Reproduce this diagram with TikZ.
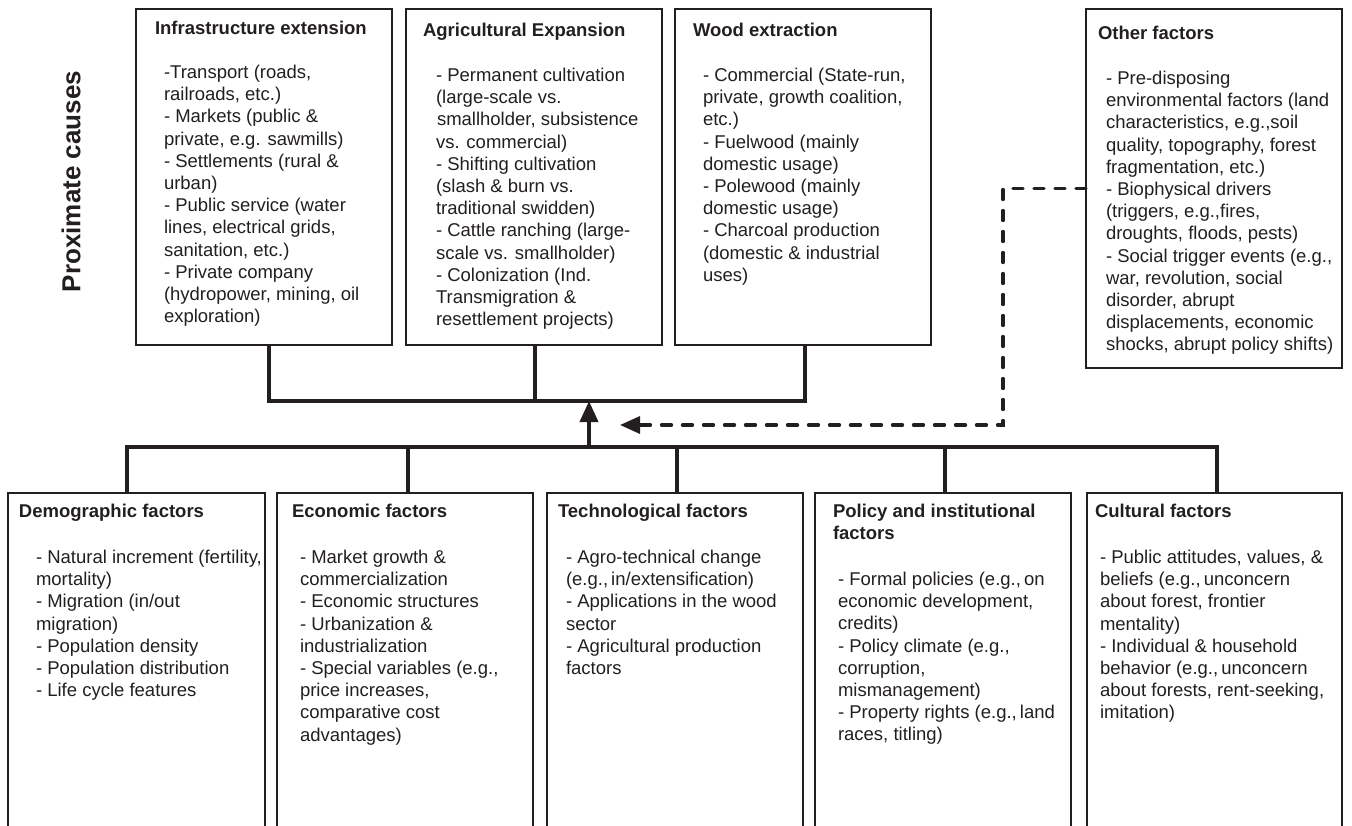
\documentclass[tikz,border=0pt]{standalone}
\usepackage{fontspec}
\setmainfont{Liberation Sans}
\usetikzlibrary{arrows.meta}
\definecolor{ink}{HTML}{231F20}
\begin{document}
\begin{tikzpicture}[x=1pt,y=-1pt,
  frame/.style={draw=ink, line width=1.3pt, rectangle, inner sep=0pt, outer sep=0pt, anchor=north west, minimum width=256pt},
  txt/.style={anchor=north west, yshift=15.54pt, inner sep=0pt, outer sep=0pt, align=left, text=ink, font=\fontsize{18.5}{22.2}\selectfont},
  ttl/.style={txt, font=\fontsize{18.5}{22.2}\selectfont\bfseries},
  conn/.style={draw=ink, line width=3.8pt},
  dashconn/.style={draw=ink, line width=3.3pt, line cap=round, dash pattern=on 10pt off 11pt},
]
\fill[white] (0,0) rectangle (1352,826);
\useasboundingbox (0,0) rectangle (1352,826);
\clip (0,0) rectangle (1352,826);

% side label
\node[rotate=90, inner sep=0pt, text=ink, font=\fontsize{26}{30}\selectfont\bfseries] (prox) at (71,181.5) {Proximate causes};

% top frames
\node[frame, minimum height=336pt] (infra) at (136,9) {};
\node[frame, minimum height=336pt] (agri) at (406,9) {};
\node[frame, minimum height=336pt] (wood) at (675,9) {};
\node[frame, minimum height=359pt] (other) at (1086,9) {};

% bottom frames (open at the bottom edge)
\node[frame, minimum height=345pt, minimum width=257pt] (demo) at (8,493) {};
\node[frame, minimum height=345pt] (econ) at (277,493) {};
\node[frame, minimum height=345pt] (tech) at (547,493) {};
\node[frame, minimum height=345pt] (policy) at (815,493) {};
\node[frame, minimum height=345pt, minimum width=255pt] (cult) at (1087,493) {};

% top texts
\node[ttl] (infraT) at (155,34.5) {\strut Infrastructure extension};
\node[txt] (infraB) at (164,78.5) {\strut -Transport (roads,\\
railroads, etc.)\\
- Markets (public \&\\
private, e.g. sawmills)\\
- Settlements (rural \&\\
urban)\\
- Public service (water\\
lines, electrical grids,\\
sanitation, etc.)\\
- Private company\\
(hydropower, mining, oil\\
exploration)};

\node[ttl] (agriT) at (423,36.5) {\strut Agricultural Expansion};
\node[txt] (agriB) at (436,81.5) {\strut - Permanent cultivation\\
(large-scale vs.\\
\hspace{1pt}smallholder, subsistence\\
vs. commercial)\\
- Shifting cultivation\\
(slash \& burn vs.\\
traditional swidden)\\
- Cattle ranching (large-\\
scale vs. smallholder)\\
- Colonization (Ind.\\
Transmigration \&\\
resettlement projects)};

\node[ttl] (woodT) at (693,36.5) {\strut Wood extraction};
\node[txt] (woodB) at (703,81.5) {\strut - Commercial (State-run,\\
private, growth coalition,\\
etc.)\\
- Fuelwood (mainly\\
domestic usage)\\
- Polewood (mainly\\
domestic usage)\\
- Charcoal production\\
(domestic \& industrial\\
uses)};

\node[ttl] (otherT) at (1098,39.5) {\strut Other factors};
\node[txt] (otherB) at (1106,84.5) {\strut - Pre-disposing\\
environmental factors (land\\
characteristics, e.g.,soil\\
quality, topography, forest\\
fragmentation, etc.)\\
- Biophysical drivers\\
(triggers, e.g.,fires,\\
droughts, floods, pests)\\
- Social trigger events (e.g.,\\
war, revolution, social\\
disorder, abrupt\\
displacements, economic\\
shocks, abrupt policy shifts)};

% bottom texts
\node[ttl] (demoT) at (19,517.5) {\strut Demographic factors};
\node[txt] (demoB) at (36,563.5) {\strut - Natural increment (fertility,\\
mortality)\\
- Migration (in/out\\
migration)\\
- Population density\\
- Population distribution\\
- Life cycle features};

\node[ttl] (econT) at (292,517.5) {\strut Economic factors};
\node[txt] (econB) at (300,563.5) {\strut - Market growth \&\\
commercialization\\
- Economic structures\\
- Urbanization \&\\
industrialization\\
- Special variables (e.g.,\\
price increases,\\
comparative cost\\
advantages)};

\node[ttl] (techT) at (558,517.5) {\strut Technological factors};
\node[txt] (techB) at (566,563.5) {\strut - Agro-technical change\\
(e.g.,\,in/extensification)\\
- Applications in the wood\\
sector\\
- Agricultural production\\
factors};

\node[ttl] (policyT) at (833,517.5) {\strut Policy and institutional\\ factors};
\node[txt] (policyB) at (838,585.5) {\strut - Formal policies (e.g.,\,on\\
economic development,\\
credits)\\
- Policy climate (e.g.,\\
corruption,\\
mismanagement)\\
- Property rights (e.g.,\,land\\
races, titling)};

\node[ttl] (cultT) at (1095,517.5) {\strut Cultural factors};
\node[txt] (cultB) at (1100,563.5) {\strut - Public attitudes, values, \&\\
beliefs (e.g.,\,unconcern\\
about forest, frontier\\
mentality)\\
- Individual \& household\\
behavior (e.g.,\,unconcern\\
about forests, rent-seeking,\\
imitation)};

% connector levels and columns
\coordinate (tbus) at (0,401);
\coordinate (bbus) at (0,447);
\coordinate (xI) at (269,0);
\coordinate (xA) at (535,0);
\coordinate (xW) at (805,0);
\coordinate (xD) at (127,0);
\coordinate (xE) at (408,0);
\coordinate (xT) at (677,0);
\coordinate (xP) at (945,0);
\coordinate (xC) at (1217,0);
\coordinate (xDash) at (1003,0);
\coordinate (upFoot) at (589,447);
\coordinate (upTip) at (589,401);
\coordinate (dTip) at (620,425);

% top bus
\draw[conn] (infra.south -| xI) -- (tbus -| xI) -- (tbus -| xW) -- (wood.south -| xW);
\draw[conn] (agri.south -| xA) -- (tbus -| xA);

% bottom bus
\draw[conn] (demo.north -| xD) -- (bbus -| xD) -- (bbus -| xC) -- (cult.north -| xC);
\draw[conn] (econ.north -| xE) -- (bbus -| xE);
\draw[conn] (tech.north -| xT) -- (bbus -| xT);
\draw[conn] (policy.north -| xP) -- (bbus -| xP);

% upward arrow
\draw[conn, -{Triangle[width=18pt,length=21pt]}] (upFoot) -- (upTip);

% dashed arrow from other factors
\draw[dashconn, -{Triangle[width=17pt,length=20pt]}] (other.west) -| (xDash |- dTip) -- (dTip);
\end{tikzpicture}
\end{document}
